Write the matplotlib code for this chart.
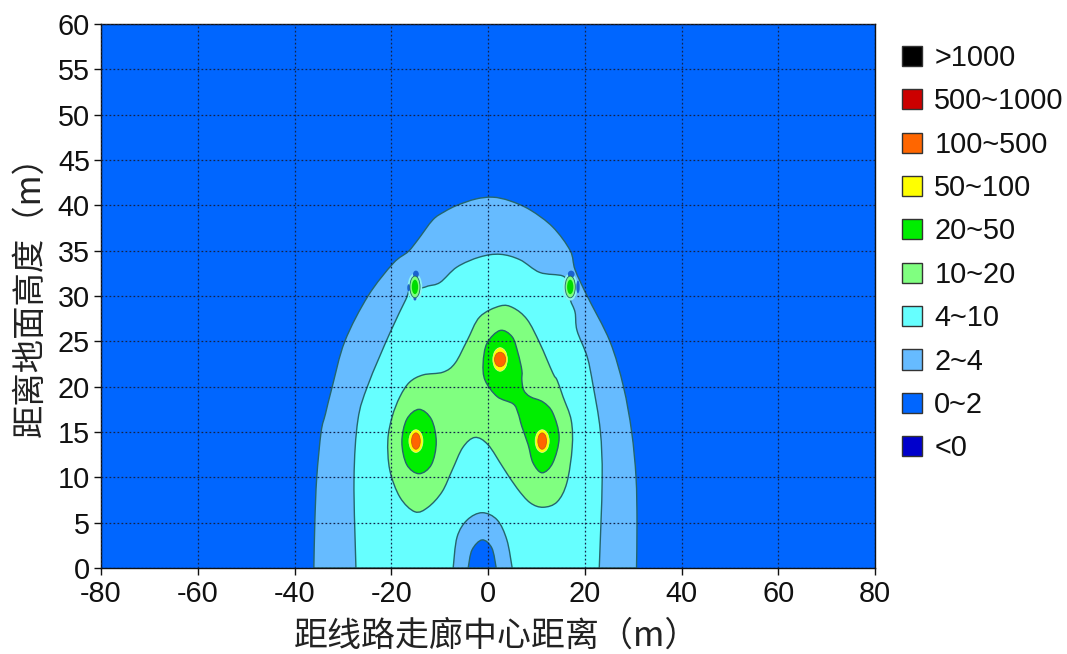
import matplotlib
matplotlib.use("Agg")
import matplotlib.pyplot as plt
from matplotlib.path import Path
from matplotlib.patches import PathPatch, Ellipse, Patch

plt.rcParams['font.family'] = ['Liberation Sans', 'DejaVu Sans']
plt.rcParams['axes.unicode_minus'] = False
CJK = ['Noto Sans CJK SC', 'DejaVu Sans']

legend_labels = ['>1000', '500~1000', '100~500', '50~100', '20~50', '10~20', '4~10', '2~4', '0~2', '<0']
legend_colors = ['#000000', '#CC0000', '#FF6600', '#FFFF00', '#00EE00', '#80FF80', '#66FFFF', '#66BBFF', '#0066FF', '#0000CC']
xticks = list(range(-80, 81, 20))
yticks = list(range(0, 61, 5))
x_title = '距线路走廊中心距离（m）'
y_title = '距离地面高度（m）'

# contour outlines (x in m, height in m)
c2_x = [-36, -35.8, -35.4, -34.5, -33.6, -32.2, -29.6, -24.8, -19.6, -16.5, -14.5, -11.4, -9, -6.4, -2.5, 1, 4.5, 8.7, 13.4, 17, 18, 20.5, 25.2, 28, 29.7, 30.6, 30.8, 30.7]
c2_y = [0, 5, 10, 15, 17, 20, 25, 30, 33.6, 34.9, 36.2, 38.4, 39.3, 40, 40.7, 40.9, 40.5, 39.5, 37.6, 35, 32.9, 30, 25, 20, 15, 10, 5, 0]
c4_x = [-27.3, -27.7, -26.9, -24.8, -20.3, -17, -16.1, -13.6, -12.4, -9.9, -6.4, -1.7, 2.5, 6.6, 10.7, 15.5, 16.5, 17, 18, 18.4, 20.5, 21.7, 23.2, 23.6, 23]
c4_y = [0, 9.7, 16.3, 20.2, 25.9, 29.6, 30.7, 30.9, 31.1, 31.5, 33.2, 34.3, 34.6, 34, 32.6, 32.2, 31.2, 29.6, 28.2, 26.2, 23.3, 20.2, 15.2, 9.7, 0]
low4_x = [-7.2, -6.4, -4.3, -1.2, 1.9, 3.9, 5]
low4_y = [0, 3.4, 5.3, 6.1, 5.3, 3.1, 0]
low2_x = [-4.1, -3.3, -1.2, 0.8, 1.7]
low2_y = [0, 2, 3.1, 2.2, 0]
c10_x = [2.5, -1.7, -4.3, -6.8, -9.3, -13.4, -16.2, -18.2, -19.8, -20.7, -20.3, -18.2, -15.1, -12.4, -9.5, -7.4, -5.2, -2.7, 0, 3.1, 6, 8.7, 11.4, 14.3, 16.3, 17.4, 17.2, 15.5, 14.3, 13.4, 10.7, 8.1, 5.2]
c10_y = [28.9, 27.7, 25.1, 22.6, 21.6, 21.3, 20.5, 18.9, 16.7, 14.1, 10.8, 7.8, 6.2, 6.7, 8.4, 10.8, 13.3, 14.4, 13.6, 11.1, 8.8, 7.2, 6.7, 7.3, 9.4, 13.3, 16.3, 18.9, 20.7, 21.5, 24.8, 27.4, 28.7]
c20_x = [2.5, -0.2, -1, -0.6, 1.9, 5.2, 6.2, 7, 8.3, 9.3, 11.2, 13.4, 14.7, 13.4, 11.4, 8.7, 7.4, 7, 7, 6.2, 5]
c20_y = [26.2, 24.8, 22.6, 20.7, 18.9, 18.1, 17.1, 15.6, 13.6, 11.6, 10.5, 11.6, 14.4, 17.1, 18.3, 18.9, 19.6, 20.7, 21.8, 23.7, 25.5]
c20b_x = [-14.25, -16.8, -17.8, -16.8, -14.25, -11.7, -10.7, -11.7]
c20b_y = [17.5, 16.4, 13.9, 11.4, 10.4, 11.4, 13.9, 16.4]

# elliptical spots: centre x, centre y, half-width, half-height
spot_x = [-14.9, 11.2, 2.5]
spot_y = [14, 14, 23]
yellow_rx = [1.45, 1.45, 1.5]
yellow_ry = [1.25, 1.25, 1.3]
orange_rx = [0.9, 0.9, 1.15]
orange_ry = [0.9, 0.9, 0.8]
tower_x = [-15.1, 17]
tower_y = [31, 31]
halo_r = [1.5, 1.5]
light_rx = [1.05, 1.05]
light_ry = [1.2, 1.2]
green_rx = [0.65, 0.65]
green_ry = [0.8, 0.8]
blue_x = [-14.9, 17.2, -16.4, -15.1, 18.6]
blue_y = [32.4, 32.4, 30.9, 29.7, 31]
blue_rx = [0.6, 0.7, 0.3, 0.3, 0.35]
blue_ry = [0.4, 0.4, 0.4, 0.2, 0.7]

EDGE = '#24666C'


def smooth_path(xs, ys, closed):
    """Catmull-Rom through the outline points, as matplotlib Bezier segments."""
    n = len(xs)
    pts = list(zip(xs, ys))
    def p(i):
        if closed:
            return pts[i % n]
        return pts[max(0, min(n - 1, i))]
    verts = [pts[0]]
    codes = [Path.MOVETO]
    for i in range(n if closed else n - 1):
        p0, p1, p2, p3 = p(i - 1), p(i), p(i + 1), p(i + 2)
        c1 = (p1[0] + (p2[0] - p0[0]) / 6, p1[1] + (p2[1] - p0[1]) / 6)
        c2 = (p2[0] - (p3[0] - p1[0]) / 6, p2[1] - (p3[1] - p1[1]) / 6)
        verts += [c1, c2, p2]
        codes += [Path.CURVE4] * 3
    verts.append(pts[0])
    codes.append(Path.CLOSEPOLY)
    return Path(verts, codes)


fig = plt.figure(figsize=(10.67, 6.54), dpi=100)
ax = fig.add_axes([101 / 1067, 1 - 568 / 654, 774 / 1067, 544 / 654])
ax.set_facecolor('#0066FF')
ax.set_xlim(-80, 80)
ax.set_ylim(0, 60)


def region(xs, ys, color, closed=False):
    ax.add_patch(PathPatch(smooth_path(xs, ys, closed), facecolor=color, edgecolor=EDGE, lw=1.0, zorder=2))


def ellipses(xs, ys, rxs, rys, color, edge=EDGE, lw=0.6):
    for x, y, rx, ry in zip(xs, ys, rxs, rys):
        ax.add_patch(Ellipse((x, y), 2 * rx, 2 * ry, facecolor=color, edgecolor=edge, lw=lw, zorder=3))


region(c2_x, c2_y, '#66BBFF')
region(c4_x, c4_y, '#66FFFF')
region(low4_x, low4_y, '#66BBFF')
region(low2_x, low2_y, '#0066FF')
region(c10_x, c10_y, '#80FF80', closed=True)
region(c20_x, c20_y, '#00EE00', closed=True)
region(c20b_x, c20b_y, '#00EE00', closed=True)
ellipses(spot_x, spot_y, yellow_rx, yellow_ry, '#FFFF00', edge='#E4F0A0', lw=0.5)
ellipses(spot_x, spot_y, orange_rx, orange_ry, '#FF6600', edge='#C86010')
ellipses(tower_x, tower_y, halo_r, halo_r, '#8CF4F0', edge='none', lw=0)
ellipses(blue_x, blue_y, blue_rx, blue_ry, '#1A62D0', edge='none', lw=0)
ellipses(tower_x, tower_y, light_rx, light_ry, '#80FF80', edge=EDGE)
ellipses(tower_x, tower_y, green_rx, green_ry, '#00DD00', edge='none', lw=0)

ax.set_xticks(xticks)
ax.set_yticks(yticks)
ax.grid(True, color='#14244a', ls=(0, (1.4, 1.8)), lw=0.9, zorder=5)
ax.set_axisbelow(False)
ax.tick_params(labelsize=20.8, length=5, width=1, colors='#111111')
ax.tick_params(axis='x', pad=4)
ax.tick_params(axis='y', pad=3)
for s in ax.spines.values():
    s.set_linewidth(1)
    s.set_color('#111111')

fig.text(497 / 1067, 1 - 636 / 654, x_title, family=CJK, fontsize=24.5, color='#222222', ha='center', va='center')
fig.text(30 / 1067, 1 - 288 / 654, y_title, family=CJK, fontsize=24, color='#222222', rotation=90, ha='center', va='center')

handles = [Patch(facecolor=c, edgecolor='#333333', lw=1) for c in legend_colors]
fig.legend(handles, legend_labels, loc='upper left', bbox_to_anchor=(902 / 1067, 1 - 44 / 654), frameon=False,
           fontsize=20.8, borderpad=0, borderaxespad=0, handlelength=0.7, handleheight=0.7,
           handletextpad=0.42, labelspacing=0.532, labelcolor='#111111')

fig.savefig('out.png', dpi=100)
